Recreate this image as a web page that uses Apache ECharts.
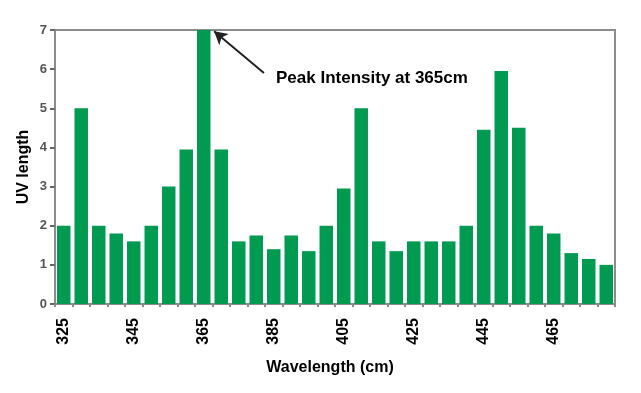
<!DOCTYPE html>
<html>
<head>
<meta charset="utf-8">
<script src="https://cdn.jsdelivr.net/npm/echarts@6/dist/echarts.min.js"></script>
<style>html,body{margin:0;padding:0;background:#fff}#c{width:641px;height:393px}</style>
</head>
<body>
<div id="c"></div>
<script>
var categories = ['325','330','335','340','345','350','355','360','365','370','375','380','385','390','395','400','405','410','415','420','425','430','435','440','445','450','455','460','465','470','475','480'];
var values = [2.0,5.0,2.0,1.8,1.6,2.0,3.0,3.95,7.0,3.95,1.6,1.75,1.4,1.75,1.35,2.0,2.95,5.0,1.6,1.35,1.6,1.6,1.6,2.0,4.45,5.95,4.5,2.0,1.8,1.3,1.15,1.0];
var yTicks = [0,1,2,3,4,5,6,7];
var annotationText = 'Peak Intensity at 365cm';
// annotation anchors in band units (category index + fraction) and y value
var arrowStart = [11.94, 5.9];
var arrowEnd = [9.09, 6.97];
var textAnchor = [12.63, 5.77];

var chart = echarts.init(document.getElementById('c'));
var font = 'Liberation Sans';
chart.setOption({
  animation: false,
  grid: {left: 55, right: 26, top: 30, bottom: 89, show: true, borderColor: '#8c8c8c', borderWidth: 2, containLabel: false},
  xAxis: [{
    type: 'category',
    data: categories,
    name: 'Wavelength (cm)',
    nameLocation: 'middle',
    nameGap: 56,
    nameTextStyle: {fontFamily: font, fontWeight: 'bold', fontSize: 16, color: '#000', padding: [0, 10, 0, 0]},
    axisLine: {lineStyle: {color: '#8c8c8c', width: 2}},
    axisTick: {show: true, alignWithLabel: false, length: 3, interval: 0, lineStyle: {color: '#8c8c8c', width: 2}},
    axisLabel: {interval: 3, rotate: 90, margin: 14, fontFamily: font, fontWeight: 'bold', fontSize: 16, color: '#000'}
  }, {
    type: 'value', min: 0, max: categories.length, show: false
  }],
  yAxis: {
    type: 'value', min: yTicks[0], max: yTicks[yTicks.length-1], interval: 1,
    name: 'UV length',
    nameLocation: 'middle',
    nameGap: 23,
    nameMoveOverlap: false,
    nameTextStyle: {fontFamily: font, fontWeight: 'bold', fontSize: 16, color: '#000'},
    axisLine: {show: true, lineStyle: {color: '#8c8c8c', width: 2}},
    axisTick: {show: true, length: 5, lineStyle: {color: '#666', width: 2}},
    axisLabel: {margin: 8, fontFamily: font, fontWeight: 'bold', fontSize: 13, color: '#555'},
    splitLine: {show: false}
  },
  series: [{
    type: 'bar',
    data: values,
    barWidth: '77%',
    itemStyle: {color: '#009a51'}
  }, {
    type: 'scatter',
    xAxisIndex: 1,
    silent: true,
    symbolSize: 0,
    itemStyle: {opacity: 1},
    data: [textAnchor],
    label: {show: true, position: 'right', distance: 0, formatter: annotationText, fontFamily: font, fontWeight: 'bold', fontSize: 17, color: '#000', opacity: 1},
    markLine: {
      silent: true,
      symbol: ['none', 'arrow'],
      symbolSize: [11, 13],
      label: {show: false},
      lineStyle: {color: '#222', width: 2, type: 'solid', opacity: 1},
      data: [[{coord: arrowStart}, {coord: arrowEnd}]]
    }
  }]
});
</script>
</body>
</html>
